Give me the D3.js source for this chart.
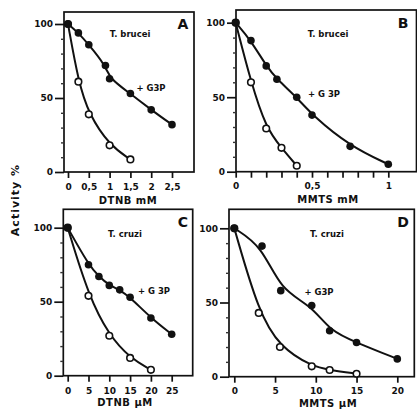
<!DOCTYPE html>
<html>
<head>
<meta charset="utf-8">
<script src="https://cdn.jsdelivr.net/npm/d3@7"></script>
<style>
  body { margin: 0; background: #fff; }
  text { font-family: "DejaVu Sans", sans-serif; font-weight: bold; fill: #111; }
</style>
</head>
<body>
<div id="graph"></div>
<script>
// ---- data ----
// A: T. brucei, DTNB mM
var aX_g3p = [0, 0.25, 0.5, 0.9, 1.0, 1.5, 2.0, 2.5];
var aY_g3p = [100, 94, 86, 72, 63, 53, 42, 32];
var aX_none = [0, 0.25, 0.5, 1.0, 1.5];
var aY_none = [100, 61, 39, 18, 8.5];
var aTicks = [0, 0.5, 1, 1.5, 2, 2.5];
var aLabels = ["0", "0,5", "1", "1,5", "2", "2,5"];

// B: T. brucei, MMTS mM
var bX_g3p = [0, 0.1, 0.2, 0.27, 0.4, 0.5, 0.75, 1.0];
var bY_g3p = [100, 88, 71, 62, 50, 38, 17, 5];
var bX_none = [0, 0.1, 0.2, 0.3, 0.4];
var bY_none = [100, 60, 29, 16, 4];
var bTicks = [0, 0.1, 0.2, 0.3, 0.4, 0.5, 0.6, 0.7, 0.8, 0.9, 1.0];
var bLabels = ["0", "", "", "", "", "0,5", "", "", "", "", "1"];

// C: T. cruzi, DTNB uM
var cX_g3p = [0, 5, 7.5, 10, 12.5, 15, 20, 25];
var cY_g3p = [100, 75, 67, 61, 58, 53, 39, 28];
var cX_none = [0, 5, 10, 15, 20];
var cY_none = [100, 54, 27, 12, 4];
var cTicks = [0, 5, 10, 15, 20, 25];
var cLabels = ["0", "5", "10", "15", "20", "25"];

// D: T. cruzi, MMTS uM
var dX_g3p = [0, 3.4, 5.7, 9.5, 11.7, 15, 20];
var dY_g3p = [100, 88, 58, 48, 31, 23, 12];
var dX_none = [0, 3, 5.6, 9.5, 11.7, 15];
var dY_none = [100, 43, 20, 7, 4.5, 2];
var dTicks = [0, 5, 10, 15, 20];
var dLabels = ["0", "5", "10", "15", "20"];

var yMajor = [0, 50, 100];
var yMinor = [10, 20, 30, 40, 60, 70, 80, 90];

function zip(xs, ys) {
  return xs.map(function(x, i) { return { x: x, y: ys[i] }; });
}

var panels = [
  { letter: "A", species: "T. brucei", xTitle: "DTNB mM", g3p: "+ G3P",
    xmax: 2.5, x0: 68, x1: 172, y0: 172, y1: 24,
    fl: 64, fr: 194, ft: 12, fb: 172,
    lab: [130, 37], let: [183, 29], gl: [151, 91], xt: [128, 204], tk: 189.5,
    ticks: aTicks, labels: aLabels,
    full: zip(aX_g3p, aY_g3p), open: zip(aX_none, aY_none) },
  { letter: "B", species: "T. brucei", xTitle: "MMTS mM", g3p: "+ G 3P",
    xmax: 1, x0: 235.7, x1: 388.3, y0: 171.7, y1: 22.7,
    fl: 236, fr: 416.5, ft: 10, fb: 171.7,
    lab: [328, 37], let: [403, 28], gl: [324, 97], xt: [328, 203], tk: 188.5,
    ticks: bTicks, labels: bLabels,
    full: zip(bX_g3p, bY_g3p), open: zip(bX_none, bY_none) },
  { letter: "C", species: "T. cruzi", xTitle: "DTNB \u03bcM", g3p: "+ G 3P",
    xmax: 25, x0: 67.7, x1: 171.7, y0: 375.7, y1: 227.7,
    fl: 63.3, fr: 192.7, ft: 209.3, fb: 375.7,
    lab: [125, 237], let: [183, 227], gl: [154, 294], xt: [125, 405.5], tk: 393.5,
    ticks: cTicks, labels: cLabels,
    full: zip(cX_g3p, cY_g3p), open: zip(cX_none, cY_none) },
  { letter: "D", species: "T. cruzi", xTitle: "MMTS \u03bcM", g3p: "+ G3P",
    xmax: 20, x0: 234.3, x1: 397.3, y0: 376.7, y1: 228.3,
    fl: 229, fr: 414.3, ft: 209.3, fb: 376.7,
    lab: [327, 237], let: [403, 227], gl: [319, 295], xt: [328, 407], tk: 394,
    ticks: dTicks, labels: dLabels,
    full: zip(dX_g3p, dY_g3p), open: zip(dX_none, dY_none) }
];

var svg = d3.select("#graph").append("svg")
    .attr("width", 417)
    .attr("height", 410)
    .style("background", "#fff");

// y axis title shared by all panels
svg.append("text")
    .attr("transform", "translate(19,200) rotate(-90)")
    .attr("text-anchor", "middle")
    .style("font-size", "11px")
    .style("letter-spacing", "1px")
    .text("Activity %");

panels.forEach(function(p) {
  var x = d3.scaleLinear().domain([0, p.xmax]).range([p.x0, p.x1]);
  var y = d3.scaleLinear().domain([0, 100]).range([p.y0, p.y1]);
  var g = svg.append("g");

  // frame
  g.append("rect")
      .attr("x", p.fl).attr("y", p.ft)
      .attr("width", p.fr - p.fl).attr("height", p.fb - p.ft)
      .style("fill", "none")
      .style("stroke", "#111")
      .style("stroke-width", 1.7);

  // x axis
  g.append("g")
      .attr("transform", "translate(0," + p.fb + ")")
      .call(d3.axisBottom(x).tickValues(p.ticks).tickSize(6)
        .tickFormat(function(d, i) { return p.labels[i]; }))
      .call(function(a) {
        a.select(".domain").remove();
        a.selectAll("line").style("stroke", "#111").style("stroke-width", 1.7);
        a.selectAll("text").attr("y", null).attr("dy", null)
          .attr("transform", "translate(0," + (p.tk - p.fb) + ")")
          .style("font-size", "9px").style("font-family", "DejaVu Sans");
      });

  // y axis major
  g.append("g")
      .attr("transform", "translate(" + p.fl + ",0)")
      .call(d3.axisLeft(y).tickValues(yMajor).tickSize(9).tickPadding(2))
      .call(function(a) {
        a.select(".domain").remove();
        a.selectAll("line").style("stroke", "#111").style("stroke-width", 1.7);
        a.selectAll("text").style("font-size", "9px").style("font-family", "DejaVu Sans");
      });
  // y axis minor
  g.append("g")
      .attr("transform", "translate(" + p.fl + ",0)")
      .call(d3.axisLeft(y).tickValues(yMinor).tickSize(3).tickFormat(""))
      .call(function(a) {
        a.select(".domain").remove();
        a.selectAll("line").style("stroke", "#333").style("stroke-width", 1.4);
      });

  // fitted lines
  var line = d3.line()
      .x(function(d) { return x(d.x); })
      .y(function(d) { return y(d.y); })
      .curve(d3.curveBasis);

  [p.full, p.open].forEach(function(s) {
    g.append("path")
        .datum(s)
        .attr("d", line)
        .style("fill", "none")
        .style("stroke", "#111")
        .style("stroke-width", 2);
  });

  g.selectAll(".open")
      .data(p.open)
      .enter()
      .append("circle")
        .attr("cx", function(d) { return x(d.x); })
        .attr("cy", function(d) { return y(d.y); })
        .attr("r", 3.3)
        .style("fill", "#fff")
        .style("stroke", "#111")
        .style("stroke-width", 1.6);

  g.selectAll(".full")
      .data(p.full)
      .enter()
      .append("circle")
        .attr("cx", function(d) { return x(d.x); })
        .attr("cy", function(d) { return y(d.y); })
        .attr("r", 3.8)
        .style("fill", "#111");

  // labels
  g.append("text")
      .attr("x", p.lab[0]).attr("y", p.lab[1])
      .attr("text-anchor", "middle")
      .style("font-size", "8.5px")
      .text(p.species);
  g.append("text")
      .attr("x", p.let[0]).attr("y", p.let[1])
      .attr("text-anchor", "middle")
      .style("font-size", "14px")
      .text(p.letter);
  g.append("text")
      .attr("x", p.gl[0]).attr("y", p.gl[1])
      .attr("text-anchor", "middle")
      .style("font-size", "8.5px")
      .text(p.g3p);
  g.append("text")
      .attr("x", p.xt[0]).attr("y", p.xt[1])
      .attr("text-anchor", "middle")
      .style("font-size", "10px")
      .style("letter-spacing", "0.5px")
      .text(p.xTitle);
});
</script>
</body>
</html>
